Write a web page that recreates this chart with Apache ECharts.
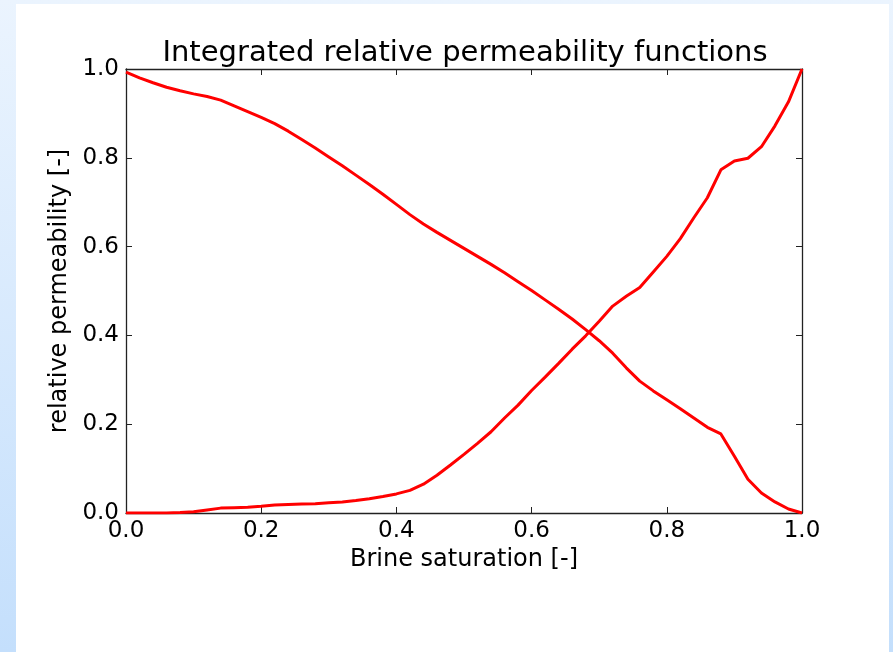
<!DOCTYPE html>
<html>
<head>
<meta charset="utf-8">
<script src="https://cdn.jsdelivr.net/npm/echarts@6/dist/echarts.min.js"></script>
<style>
  html, body { margin: 0; padding: 0; }
  #chart { width: 893px; height: 652px; }
</style>
</head>
<body>
<div id="chart"></div>
<script>
const titleText = 'Integrated relative permeability functions';
const xAxisName = 'Brine saturation [-]';
const yAxisName = 'relative permeability [-]';

const saturation = [0, 0.02, 0.04, 0.06, 0.08, 0.10, 0.12, 0.14, 0.16, 0.18, 0.20, 0.22, 0.24, 0.26, 0.28, 0.30, 0.32, 0.34, 0.36, 0.38, 0.40, 0.42, 0.44, 0.46, 0.48, 0.50, 0.52, 0.54, 0.56, 0.58, 0.60, 0.62, 0.64, 0.66, 0.68, 0.70, 0.72, 0.74, 0.76, 0.78, 0.80, 0.82, 0.84, 0.86, 0.88, 0.90, 0.92, 0.94, 0.96, 0.98, 1.00];

const krDecreasing = [0.993, 0.980, 0.969, 0.959, 0.951, 0.944, 0.938, 0.930, 0.917, 0.904, 0.891, 0.877, 0.860, 0.841, 0.822, 0.802, 0.782, 0.761, 0.740, 0.718, 0.695, 0.672, 0.651, 0.632, 0.614, 0.596, 0.578, 0.560, 0.541, 0.521, 0.501, 0.480, 0.459, 0.437, 0.413, 0.388, 0.360, 0.327, 0.297, 0.275, 0.255, 0.235, 0.214, 0.193, 0.178, 0.128, 0.076, 0.045, 0.025, 0.009, 0.000];

const krIncreasing = [0.000, 0.000, 0.000, 0.000, 0.001, 0.003, 0.007, 0.011, 0.012, 0.013, 0.015, 0.018, 0.019, 0.020, 0.021, 0.023, 0.025, 0.028, 0.032, 0.037, 0.043, 0.051, 0.065, 0.085, 0.108, 0.132, 0.157, 0.183, 0.214, 0.243, 0.276, 0.306, 0.337, 0.369, 0.399, 0.432, 0.466, 0.488, 0.508, 0.543, 0.578, 0.618, 0.665, 0.710, 0.773, 0.793, 0.799, 0.825, 0.872, 0.926, 1.000];

const tickValues = [0.0, 0.2, 0.4, 0.6, 0.8, 1.0];

const FONT = 'DejaVu Sans';
const frameColor = '#222222';

function pairs(xs, ys) { return xs.map((x, i) => [x, ys[i]]); }

function makeAxis(pos, isX, main) {
  const a = {
    type: 'value',
    position: pos,
    min: tickValues[0],
    max: tickValues[tickValues.length - 1],
    interval: 0.2,
    axisLine: { show: true, onZero: false, lineStyle: { color: frameColor, width: 1.3 } },
    axisTick: { show: true, inside: true, length: 6, lineStyle: { color: frameColor, width: 1 } },
    splitLine: { show: false },
    axisLabel: {
      show: main,
      color: '#000',
      fontFamily: FONT,
      fontSize: 23,
      margin: 7,
      formatter: v => v.toFixed(1)
    }
  };
  if (main) {
    a.name = isX ? xAxisName : yAxisName;
    a.nameLocation = 'middle';
    a.nameGap = isX ? 33 : 51;
    a.nameTextStyle = { color: '#000', fontFamily: FONT, fontSize: 24 };
  }
  return a;
}

const chart = echarts.init(document.getElementById('chart'), null, { renderer: 'canvas' });
chart.setOption({
  animation: false,
  backgroundColor: {
    type: 'linear', x: 0, y: 0, x2: 0, y2: 1,
    colorStops: [{ offset: 0, color: '#ebf4fe' }, { offset: 1, color: '#c4dffc' }]
  },
  graphic: [{
    type: 'rect', z: -10, silent: true,
    shape: { x: 16, y: 4, width: 873, height: 660 },
    style: { fill: '#ffffff' }
  }],
  title: {
    text: titleText,
    left: 460,
    top: 34,
    textAlign: 'center',
    textStyle: { color: '#000', fontFamily: FONT, fontSize: 29, fontWeight: 'normal' }
  },
  grid: { left: 126, top: 69, width: 676, height: 444, containLabel: false },
  xAxis: [makeAxis('bottom', true, true), makeAxis('top', true, false)],
  yAxis: [makeAxis('left', false, true), makeAxis('right', false, false)],
  series: [
    {
      type: 'line', xAxisIndex: 0, yAxisIndex: 0,
      data: pairs(saturation, krDecreasing),
      showSymbol: false, symbol: 'none', smooth: false,
      lineStyle: { color: '#ff0000', width: 3 }
    },
    {
      type: 'line', xAxisIndex: 0, yAxisIndex: 0,
      data: pairs(saturation, krIncreasing),
      showSymbol: false, symbol: 'none', smooth: false,
      lineStyle: { color: '#ff0000', width: 3 }
    }
  ]
});
</script>
</body>
</html>
